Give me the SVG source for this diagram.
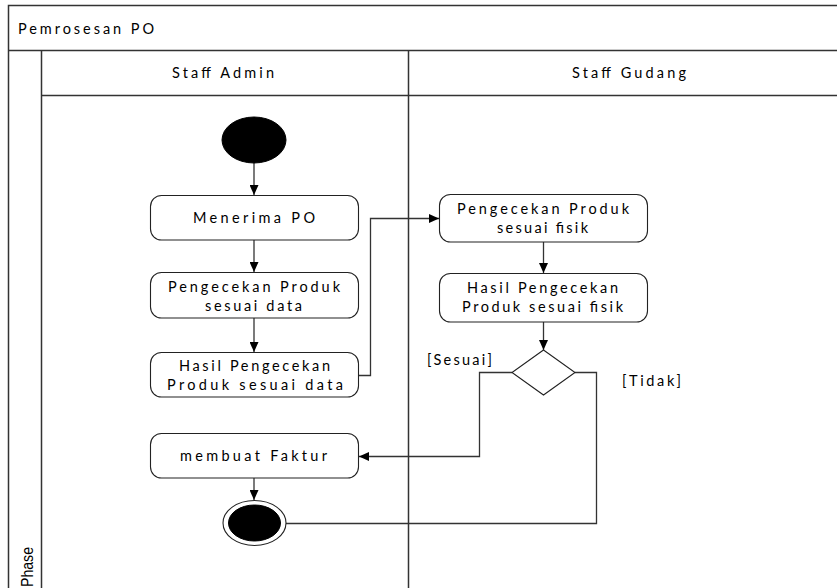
<svg xmlns="http://www.w3.org/2000/svg" width="837" height="588" viewBox="0 0 837 588">
  <style>
    .frame { fill: none; stroke: #333; stroke-width: 1.5; }
    .node { fill: #fff; stroke: #222; stroke-width: 1.1; }
    .solid { fill: #000; stroke: #000; stroke-width: 1; }
    .edge { fill: none; stroke: #333; stroke-width: 1.3; }
    .lbl { font-family: Lato, "Liberation Sans", sans-serif; font-size: 14.5px; fill: #000; }
    .phase { font-family: "Liberation Sans", Arial, sans-serif; font-size: 17px; fill: #000; }
  </style>
  <defs>
    <marker id="arrow" markerWidth="10" markerHeight="9" refX="10" refY="4.5" orient="auto" markerUnits="userSpaceOnUse">
      <path d="M0,0 L10,4.5 L0,9 Z" fill="#000"/>
    </marker>
  </defs>

  <rect width="837" height="588" fill="#fff"/>

  <!-- pool and swimlanes -->
  <g id="pool">
    <rect class="frame" x="8.5" y="5.5" width="840" height="600"/>
    <line class="frame" x1="8" y1="50.5" x2="837" y2="50.5"/>
    <line class="frame" x1="41.5" y1="50" x2="41.5" y2="588"/>
    <line class="frame" x1="41" y1="95.5" x2="837" y2="95.5"/>
    <line class="frame" x1="408.5" y1="50" x2="408.5" y2="588"/>
    <text class="lbl" x="18" y="34" textLength="136" lengthAdjust="spacing">Pemrosesan PO</text>
    <text class="lbl" x="172" y="78" textLength="102" lengthAdjust="spacing">Staff Admin</text>
    <text class="lbl" x="572" y="78" textLength="114" lengthAdjust="spacing">Staff Gudang</text>
    <text class="phase" transform="translate(33,587) rotate(-90)" textLength="40" lengthAdjust="spacingAndGlyphs">Phase</text>
  </g>

  <!-- connectors -->
  <g id="connectors">
    <line class="edge" x1="254" y1="163" x2="254" y2="195" marker-end="url(#arrow)"/>
    <line class="edge" x1="254" y1="240" x2="254" y2="272" marker-end="url(#arrow)"/>
    <line class="edge" x1="254" y1="318" x2="254" y2="352" marker-end="url(#arrow)"/>
    <polyline class="edge" points="358,375.5 370.5,375.5 370.5,218.5 439,218.5" marker-end="url(#arrow)"/>
    <line class="edge" x1="543.5" y1="242" x2="543.5" y2="273" marker-end="url(#arrow)"/>
    <line class="edge" x1="543.5" y1="322" x2="543.5" y2="350" marker-end="url(#arrow)"/>
    <polyline class="edge" points="512,372.5 479.5,372.5 479.5,456.5 359,456.5" marker-end="url(#arrow)"/>
    <polyline class="edge" points="575,372.5 596.5,372.5 596.5,523.5 286,523.5"/>
    <line class="edge" x1="254" y1="478" x2="254" y2="500" marker-end="url(#arrow)"/>
    <text class="lbl" x="427" y="365" textLength="65" lengthAdjust="spacing">[Sesuai]</text>
    <text class="lbl" x="622" y="386" textLength="59" lengthAdjust="spacing">[Tidak]</text>
  </g>

  <!-- Staff Admin lane -->
  <g id="start">
    <ellipse class="solid" cx="254" cy="140" rx="32" ry="23"/>
  </g>
  <g id="menerima-po">
    <rect class="node" x="150.5" y="195.5" width="208" height="44.5" rx="11"/>
    <text class="lbl" x="193" y="223" textLength="122" lengthAdjust="spacing">Menerima PO</text>
  </g>
  <g id="cek-data">
    <rect class="node" x="150.5" y="272.5" width="208" height="45.5" rx="11"/>
    <text class="lbl" x="168" y="292" textLength="172" lengthAdjust="spacing">Pengecekan Produk</text>
    <text class="lbl" x="205" y="311" textLength="97" lengthAdjust="spacing">sesuai data</text>
  </g>
  <g id="hasil-data">
    <rect class="node" x="150.5" y="352.5" width="208" height="44.5" rx="11"/>
    <text class="lbl" x="179" y="371" textLength="151" lengthAdjust="spacing">Hasil Pengecekan</text>
    <text class="lbl" x="167" y="390" textLength="176" lengthAdjust="spacing">Produk sesuai data</text>
  </g>
  <g id="faktur">
    <rect class="node" x="150.5" y="433.5" width="208" height="44.5" rx="11"/>
    <text class="lbl" x="180" y="461" textLength="147" lengthAdjust="spacing">membuat Faktur</text>
  </g>
  <g id="end">
    <ellipse class="node" cx="254.5" cy="523" rx="31.5" ry="22.5"/>
    <ellipse class="solid" cx="254.5" cy="523" rx="26" ry="18"/>
  </g>

  <!-- Staff Gudang lane -->
  <g id="cek-fisik">
    <rect class="node" x="439.5" y="194.5" width="208" height="47.5" rx="11"/>
    <text class="lbl" x="457" y="214" textLength="172" lengthAdjust="spacing">Pengecekan Produk</text>
    <text class="lbl" x="497" y="233" textLength="91" lengthAdjust="spacing">sesuai fisik</text>
  </g>
  <g id="hasil-fisik">
    <rect class="node" x="439.5" y="273.5" width="208" height="48.5" rx="11"/>
    <text class="lbl" x="467" y="293" textLength="151" lengthAdjust="spacing">Hasil Pengecekan</text>
    <text class="lbl" x="462" y="312" textLength="161" lengthAdjust="spacing">Produk sesuai fisik</text>
  </g>
  <g id="decision">
    <polygon class="node" points="543.5,350 575,372.5 543.5,395 512,372.5"/>
  </g>
</svg>
